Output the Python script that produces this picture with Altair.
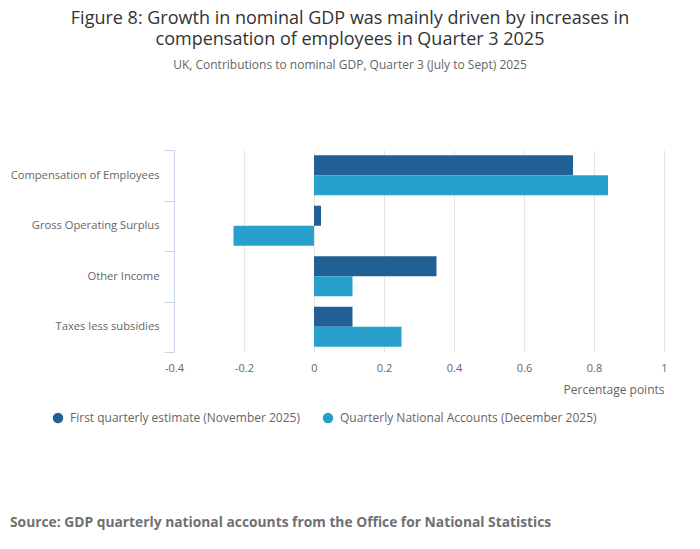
import altair as alt
import pandas as pd

# Contributions to nominal GDP growth, Q3 2025 (percentage points)
categories = [
    "Compensation of Employees",
    "Gross Operating Surplus",
    "Other Income",
    "Taxes less subsidies",
]
series = [
    "First quarterly estimate (November 2025)",
    "Quarterly National Accounts (December 2025)",
]
first_estimate = [0.74, 0.02, 0.35, 0.11]
qna_estimate = [0.84, -0.23, 0.11, 0.25]
x_ticks = [-0.4, -0.2, 0, 0.2, 0.4, 0.6, 0.8, 1]
colours = ["#206095", "#27a0cc"]

font = "Open Sans"

rows = []
for cat, a, b in zip(categories, first_estimate, qna_estimate):
    rows.append({"Component": cat, "Series": series[0], "Value": a})
    rows.append({"Component": cat, "Series": series[1], "Value": b})
data = pd.DataFrame(rows)

bars = (
    alt.Chart(data)
    .mark_bar(cornerRadius=0)
    .encode(
        x=alt.X(
            "Value:Q",
            scale=alt.Scale(domain=[-0.4, 1], nice=False, zero=False),
            axis=alt.Axis(
                values=x_ticks,
                title="Percentage points",
                titleAnchor="end",
                titleAlign="right",
                titleFontSize=12,
                titleFontWeight="normal",
                titleColor="#666666",
                titlePadding=11,
                labelFontSize=11,
                labelColor="#666666",
                labelPadding=10,
                labelFlush=False,
                domain=False,
                ticks=False,
                grid=True,
                gridColor="#e6e6e6",
                labelExpr="datum.value == 0 ? '0' : datum.value == 1 ? '1' : replace(format(datum.value, '.1f'), '\u2212', '-')",
            ),
        ),
        y=alt.Y(
            "Component:N",
            sort=categories,
            scale=alt.Scale(paddingInner=0, paddingOuter=0),
            axis=alt.Axis(
                title=None,
                labelFontSize=11.2,
                labelColor="#666666",
                labelPadding=5,
                tickSize=10,
                tickBand="extent",
                tickColor="#ccd6eb",
                domainColor="#ccd6eb",
                grid=False,
            ),
        ),
        yOffset=alt.YOffset(
            "Series:N",
            sort=series,
            scale=alt.Scale(paddingInner=0, paddingOuter=0.26),
        ),
        color=alt.Color(
            "Series:N",
            sort=series,
            scale=alt.Scale(domain=series, range=colours),
            legend=alt.Legend(
                title=None,
                orient="none",
                direction="horizontal",
                legendX=-122,
                legendY=262,
                symbolType="circle",
                symbolSize=110,
                symbolStrokeWidth=0,
                labelFontSize=12,
                labelColor="#666666",
                labelLimit=400,
                columnPadding=22,
                labelOffset=6,
            ),
        ),
    )
)

source = (
    alt.Chart(pd.DataFrame({"t": ["Source: GDP quarterly national accounts from the Office for National Statistics"]}))
    .mark_text(
        align="left",
        baseline="alphabetic",
        fontSize=13.8,
        fontWeight="bold",
        color="#707070",
        font=font,
    )
    .encode(x=alt.value(-164), y=alt.value(377), text="t:N")
)

chart = (
    (bars + source)
    .properties(
        width=490,
        height=202,
        padding={"left": 166, "top": 142, "right": 28, "bottom": 190},
        autosize=alt.AutoSizeParams(type="none"),
        title=alt.Title(
            [
                "Figure 8: Growth in nominal GDP was mainly driven by increases in",
                "compensation of employees in Quarter 3 2025",
            ],
            subtitle="UK, Contributions to nominal GDP, Quarter 3 (July to Sept) 2025",
            anchor="middle",
            dx=-69,
            offset=73,
            fontSize=18,
            fontWeight="normal",
            color="#333333",
            lineHeight=21,
            subtitleFontSize=12,
            subtitleColor="#666666",
            subtitlePadding=11,
        ),
    )
    .configure(font=font)
    .configure_view(stroke=None)
)

chart.save("out.html", embed_options={"renderer": "svg", "actions": False})
